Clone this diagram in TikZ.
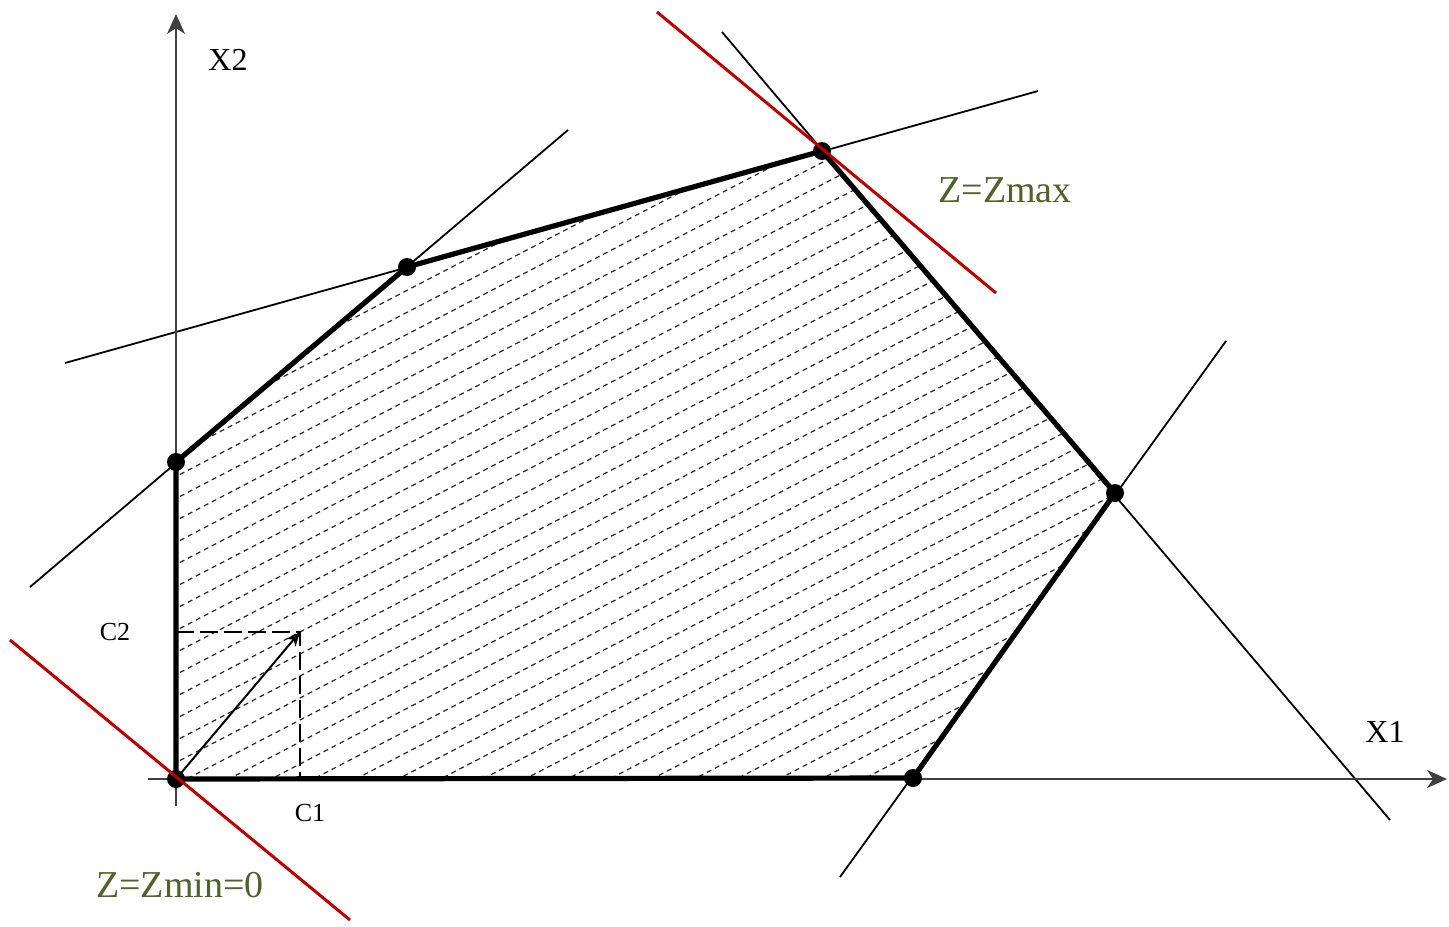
\documentclass[tikz,border=0pt]{standalone}
\usepackage{fontspec}
\setmainfont{Liberation Serif}
\usetikzlibrary{arrows.meta}

\begin{document}
\begin{tikzpicture}[
  x=0.5pt,y=-0.5pt,
  axis/.style={draw=black!75,line width=0.8pt,
               -{Stealth[length=10pt,width=9pt,inset=3pt]}},
  support/.style={draw=black,line width=0.9pt},
  objective/.style={draw=redLine,line width=1.5pt},
  region/.style={draw=black,line width=2.6pt,line join=round},
  hatch/.style={draw=black!85,line width=0.6pt,dash pattern=on 2.5pt off 2pt},
  guide/.style={draw=black,line width=1pt,dash pattern=on 9pt off 3pt},
  gradient/.style={draw=black,line width=1pt,
                   -{Stealth[length=7pt,width=6pt,inset=2pt]}},
  vertexdot/.style={circle,fill=black,minimum size=9pt,inner sep=0pt},
  axislabel/.style={font=\fontsize{16}{19}\selectfont},
  costlabel/.style={font=\fontsize{13}{16}\selectfont},
  zlabel/.style={font=\fontsize{19}{22}\selectfont,text=oliveText},
]
\definecolor{redLine}{HTML}{C00000}
\definecolor{oliveText}{HTML}{4F6228}

\useasboundingbox (0,0) rectangle (1449,926);

% Vertices of the feasible region.
\coordinate (O) at (176,779);
\coordinate (A) at (176,462);
\coordinate (B) at (407,267);
\coordinate (C) at (822,151);
\coordinate (D) at (1115,493);
\coordinate (E) at (913,778);

% Hatching of the feasible region.
\begin{scope}
  \clip (O)--(A)--(B)--(C)--(D)--(E)--cycle;
  \foreach \k [evaluate=\k as \c using 590+22*\k] in {-6,...,31}
    \draw[hatch] (100,{\c-52}) -- (1200,{\c-624});
\end{scope}

% Constraint lines, extended beyond the vertices.
\coordinate (abStart) at (30,587);
\coordinate (abEnd) at (568,130);
\coordinate (bcStart) at (65,363);
\coordinate (bcEnd) at (1038,91);
\coordinate (cdStart) at (722,32);
\coordinate (cdEnd) at (1390,820);
\coordinate (deStart) at (840,877);
\coordinate (deEnd) at (1226,341);
\draw[support] (abStart)--(abEnd) (bcStart)--(bcEnd)
  (cdStart)--(cdEnd) (deStart)--(deEnd);

% Axes.
\coordinate (xTail) at (148,779);
\coordinate (xHead) at (1447,779);
\coordinate (yTail) at (176,806);
\coordinate (yHead) at (176,14);
\draw[axis] (xTail)--(xHead);
\draw[axis] (yTail)--(yHead);

\draw[region] (O)--(A)--(B)--(C)--(D)--(E)--cycle;

% Objective vector and its components.
\coordinate (P) at (300,632);
\coordinate (cTwoFoot) at (176,632);
\coordinate (cOneFoot) at (300,779);
\draw[guide] (cTwoFoot)--(P)--(cOneFoot);
\draw[gradient] (O)--(P);

\foreach \n in {O,A,B,C,D,E}
  \node[vertexdot] (dot\n) at (\n) {};

% Level lines of the objective.
\coordinate (maxStart) at (657,12);
\coordinate (maxEnd) at (996,293);
\coordinate (minStart) at (10,640);
\coordinate (minEnd) at (350,920);
\draw[objective] (maxStart)--(maxEnd) (minStart)--(minEnd);

\node[axislabel] (lblXtwo) at (228,60) {X2};
\node[axislabel] (lblXone) at (1385,732) {X1};
\node[costlabel] (lblCtwo) at (115,632) {C2};
\node[costlabel] (lblCone) at (310,813) {C1};
\node[zlabel] (lblZmax) at (1005,190) {Z=Zmax};
\node[zlabel] (lblZmin) at (180,885) {Z=Zmin=0};
\end{tikzpicture}
\end{document}
